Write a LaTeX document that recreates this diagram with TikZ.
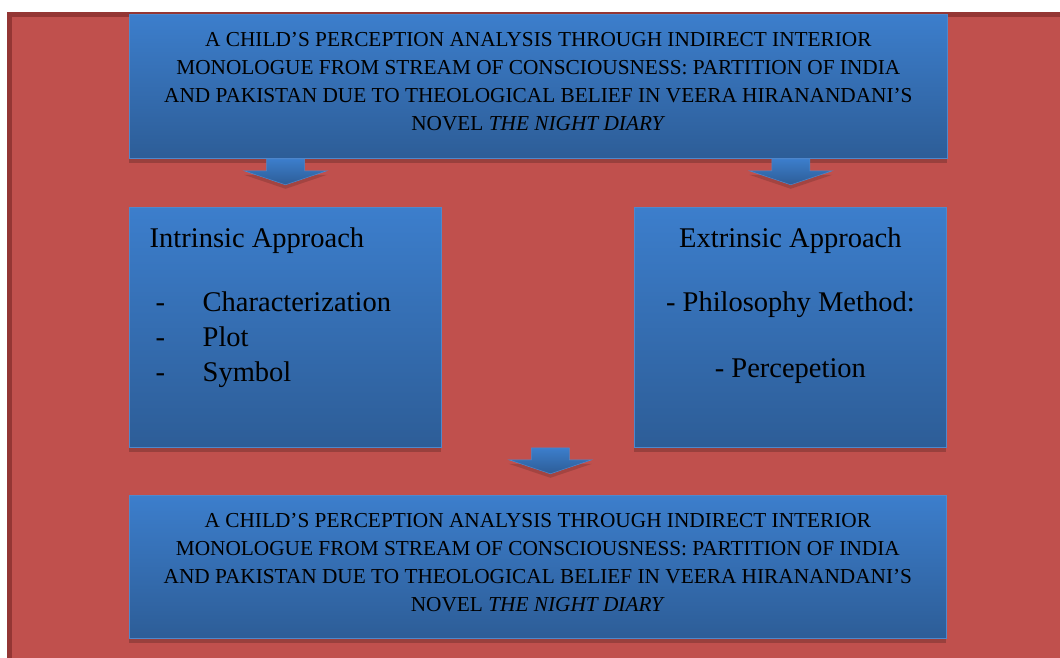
\documentclass[tikz,border=0pt]{standalone}
\usepackage{fontspec}
\setmainfont{Liberation Serif}
\usetikzlibrary{positioning,calc,shadows}
\definecolor{framered}{HTML}{C0504D}
\definecolor{framedark}{HTML}{943634}
\definecolor{boxtop}{HTML}{3C7ECC}
\definecolor{boxbottom}{HTML}{2D5D97}
\definecolor{boxline}{HTML}{4F88CC}
\def\arrowpath{++(-19,0) -- ++(0,12) -- ++(-22.5,0) -- ++(41.5,14) -- ++(41.5,-14) -- ++(-22.5,0) -- ++(0,-12) -- cycle}
\tikzset{
  bluebox/.style={draw=boxline, line width=0.8pt, top color=boxtop, bottom color=boxbottom,
    anchor=north west, inner sep=0pt,
    drop shadow={shadow xshift=0pt, shadow yshift=-5pt, opacity=.2, fill=black}},
  titletext/.style={font=\fontsize{21.3}{28}\selectfont, align=center, inner sep=0pt},
  bodytext/.style={font=\fontsize{28.5}{35}\selectfont, inner sep=0pt},
  blockarrow/.style={top color=boxtop, bottom color=boxbottom, draw=boxline, line width=0.5pt,
    drop shadow={shadow xshift=0pt, shadow yshift=-4pt, opacity=.15, fill=black}}
}

\begin{document}
\begin{tikzpicture}[x=1pt,y=-1pt]
\useasboundingbox (0,0) rectangle (1060,658);
\fill[white] (0,0) rectangle (1060,658);
\fill[framedark] (7,12) rectangle (1060,658);
\fill[framered] (12,17) rectangle (1060,658);

\node[bluebox, minimum width=818pt, minimum height=144pt] (title) at (129,14) {};
\node[titletext] (titlelabel) at ($(title.center)+(0,-4.5)$)
  {A CHILD’S PERCEPTION ANALYSIS THROUGH INDIRECT INTERIOR\\
   MONOLOGUE FROM STREAM OF CONSCIOUSNESS: PARTITION OF INDIA\\
   AND PAKISTAN DUE TO THEOLOGICAL BELIEF IN VEERA HIRANANDANI’S\\
   NOVEL \textit{THE NIGHT DIARY}};

\node[bluebox, minimum width=312pt, minimum height=240pt] (intrinsic) at (129,207) {};
\node[bodytext, align=left, anchor=north west] (inlabel) at ($(intrinsic.north west)+(20.5,20.5)$)
  {Intrinsic Approach\\[29pt]
   \makebox[53pt][l]{\hspace{6pt}-}Characterization\\
   \makebox[53pt][l]{\hspace{6pt}-}Plot\\
   \makebox[53pt][l]{\hspace{6pt}-}Symbol};

\node[bluebox, minimum width=312pt, minimum height=240pt] (extrinsic) at (634,207) {};
\node[bodytext, align=center, anchor=north] (exlabel) at ($(extrinsic.north)+(0,20.5)$)
  {Extrinsic Approach\\[29pt]
   - Philosophy Method:\\[31pt]
   - Percepetion};

\node[bluebox, minimum width=817pt, minimum height=143pt] (result) at (129,495) {};
\node[titletext] (resultlabel) at ($(result.center)+(0,-4)$)
  {A CHILD’S PERCEPTION ANALYSIS THROUGH INDIRECT INTERIOR\\
   MONOLOGUE FROM STREAM OF CONSCIOUSNESS: PARTITION OF INDIA\\
   AND PAKISTAN DUE TO THEOLOGICAL BELIEF IN VEERA HIRANANDANI’S\\
   NOVEL \textit{THE NIGHT DIARY}};

\shade[blockarrow] ($(title.south west)+(156.5,0)$) \arrowpath;
\shade[blockarrow] ($(title.south east)+(-157,0)$) \arrowpath;
\shade[blockarrow] ($(intrinsic.south west)!0.5!(extrinsic.south east)+(12.5,0)$) \arrowpath;
\end{tikzpicture}
\end{document}
